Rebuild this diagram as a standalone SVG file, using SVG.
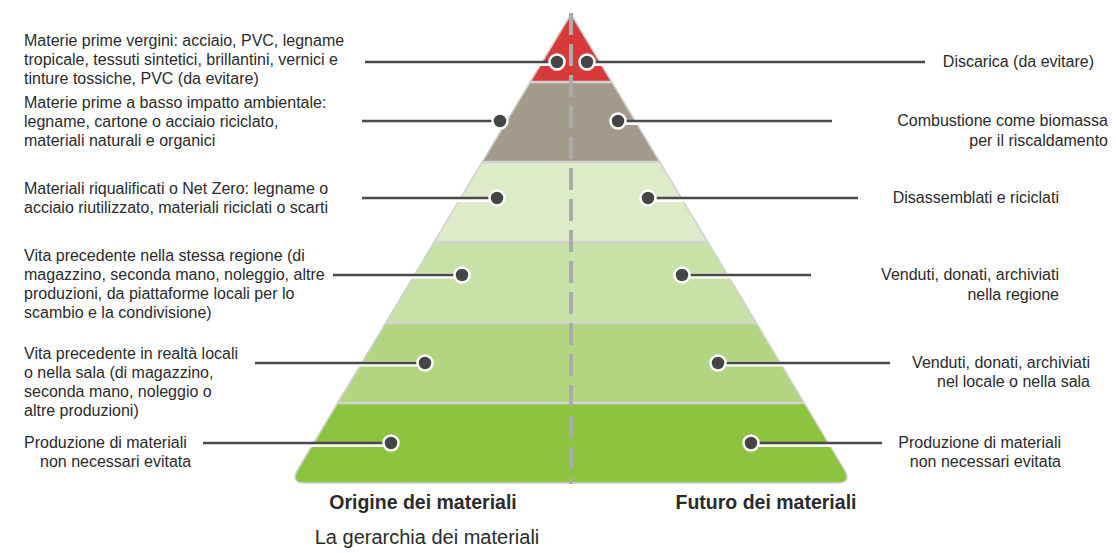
<svg xmlns="http://www.w3.org/2000/svg" width="1116" height="553" viewBox="0 0 1116 553">
<style>
text{font-family:"Liberation Sans",Arial,sans-serif;font-size:16px;fill:#2b2b2b}
.r{text-anchor:end}
.b{font-weight:bold;font-size:19.5px;text-anchor:middle}
.t{font-size:20px;text-anchor:middle}
.sep{stroke:#d2d2d2;stroke-width:2.5}
.ln{stroke:#4a4a4a;stroke-width:2.5;fill:none}
.halo{stroke:#ffffff;stroke-width:5;fill:none}
.dot{fill:#454545;stroke:#ffffff;stroke-width:2.5}
</style>
<defs>
<clipPath id="pyr"><path d="M571 14 L297.5 470 Q290 483 305 483 L837 483 Q852 483 844.5 470 Z"/></clipPath>
</defs>
<rect width="1116" height="553" fill="#ffffff"/>
<g id="pyramid">
<g clip-path="url(#pyr)">
<rect x="280" y="0" width="580" height="82" fill="#d83a3a"/>
<rect x="280" y="82" width="580" height="80" fill="#a29b8b"/>
<rect x="280" y="162" width="580" height="80" fill="#deebc9"/>
<rect x="280" y="242" width="580" height="81" fill="#c8e1a6"/>
<rect x="280" y="323" width="580" height="80" fill="#b1d580"/>
<rect x="280" y="403" width="580" height="90" fill="#8cc33f"/>
<line class="sep" x1="280" y1="82" x2="860" y2="82"/>
<line class="sep" x1="280" y1="162" x2="860" y2="162"/>
<line class="sep" x1="280" y1="242" x2="860" y2="242"/>
<line class="sep" x1="280" y1="323" x2="860" y2="323"/>
<line class="sep" x1="280" y1="403" x2="860" y2="403"/>
</g>
<path d="M571 14 L297.5 470 Q290 483 305 483 L837 483 Q852 483 844.5 470 Z" fill="none" stroke="#d0d0d0" stroke-width="1.5" stroke-linejoin="round"/>
<line x1="571" y1="13" x2="571" y2="484" stroke="#ababab" stroke-width="4" stroke-dasharray="22 9"/>
</g>
<g id="connectors">
<g class="halo">
<path d="M365 63.5 H557 M587 63.5 H925 M362 122.5 H500 M618 122.5 H832 M362 199.5 H497 M648 199.5 H858 M333 276 H462 M682 276 H811 M255 364 H425 M718 364 H890 M203 444.5 H391 M751 444.5 H882"/>
</g>
<g class="ln">
<path d="M365 62 H557 M587 62 H925 M362 121 H500 M618 121 H832 M362 198 H497 M648 198 H858 M333 275 H462 M682 275 H811 M255 363 H425 M718 363 H890 M203 443 H391 M751 443 H882"/>
</g>
</g>
<g id="row1">
<text x="24" y="46">Materie prime vergini: acciaio, PVC, legname</text>
<text x="24" y="65">tropicale, tessuti sintetici, brillantini, vernici e</text>
<text x="24" y="84">tinture tossiche, PVC (da evitare)</text>
<circle class="dot" cx="557" cy="62" r="7.5"/>
<circle class="dot" cx="587" cy="62" r="7.5"/>
<text class="r" x="1094" y="67">Discarica (da evitare)</text>
</g>
<g id="row2">
<text x="24" y="108">Materie prime a basso impatto ambientale:</text>
<text x="24" y="127">legname, cartone o acciaio riciclato,</text>
<text x="24" y="146">materiali naturali e organici</text>
<circle class="dot" cx="500" cy="121" r="7.5"/>
<circle class="dot" cx="618" cy="121" r="7.5"/>
<text class="r" x="1108" y="126">Combustione come biomassa</text>
<text class="r" x="1108" y="146">per il riscaldamento</text>
</g>
<g id="row3">
<text x="24" y="194">Materiali riqualificati o Net Zero: legname o</text>
<text x="24" y="213">acciaio riutilizzato, materiali riciclati o scarti</text>
<circle class="dot" cx="497" cy="198" r="7.5"/>
<circle class="dot" cx="648" cy="198" r="7.5"/>
<text class="r" x="1059" y="203">Disassemblati e riciclati</text>
</g>
<g id="row4">
<text x="24" y="261">Vita precedente nella stessa regione (di</text>
<text x="24" y="280">magazzino, seconda mano, noleggio, altre</text>
<text x="24" y="299">produzioni, da piattaforme locali per lo</text>
<text x="24" y="318">scambio e la condivisione)</text>
<circle class="dot" cx="462" cy="275" r="7.5"/>
<circle class="dot" cx="682" cy="275" r="7.5"/>
<text class="r" x="1059" y="280">Venduti, donati, archiviati</text>
<text class="r" x="1059" y="300">nella regione</text>
</g>
<g id="row5">
<text x="24" y="359">Vita precedente in realtà locali</text>
<text x="24" y="378">o nella sala (di magazzino,</text>
<text x="24" y="397">seconda mano, noleggio o</text>
<text x="24" y="416">altre produzioni)</text>
<circle class="dot" cx="425" cy="363" r="7.5"/>
<circle class="dot" cx="718" cy="363" r="7.5"/>
<text class="r" x="1090" y="368">Venduti, donati, archiviati</text>
<text class="r" x="1090" y="387">nel locale o nella sala</text>
</g>
<g id="row6">
<text x="24" y="448">Produzione di materiali</text>
<text x="40" y="467">non necessari evitata</text>
<circle class="dot" cx="391" cy="443" r="7.5"/>
<circle class="dot" cx="751" cy="443" r="7.5"/>
<text class="r" x="1061" y="448">Produzione di materiali</text>
<text class="r" x="1061" y="467">non necessari evitata</text>
</g>
<g id="labels">
<text class="b" x="423" y="509">Origine dei materiali</text>
<text class="b" x="766" y="509">Futuro dei materiali</text>
<text class="t" x="427" y="544">La gerarchia dei materiali</text>
</g>
</svg>
